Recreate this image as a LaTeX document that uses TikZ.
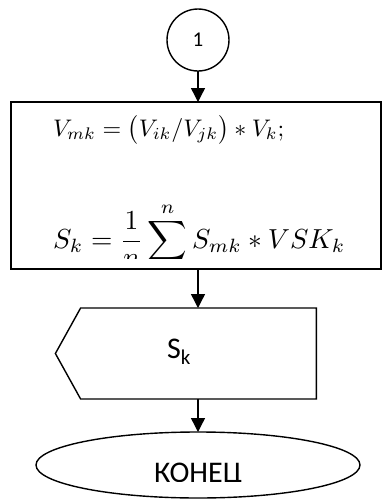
\documentclass[tikz,border=0pt]{standalone}
\usepackage{fontspec}
\setmainfont{Carlito}
\usetikzlibrary{arrows.meta,shapes.geometric,shapes.symbols}
\tikzset{
  flow diagram/.style={
    draw=black, line width=1.4pt,
    >={Triangle[length=14pt,width=14pt]},
    every node/.style={text=black, inner sep=0pt, outer sep=0pt}
  },
  flow conn/.style={circle, draw, minimum size=62pt,
    font=\fontsize{21}{24}\selectfont},
  flow calc/.style={rectangle, draw, minimum width=370pt, minimum height=167pt},
  flow out/.style={signal, signal to=west, signal from=nowhere,
    signal pointer angle=122, draw, minimum width=261pt, minimum height=91pt},
  flow end/.style={ellipse, draw, minimum width=324pt, minimum height=66pt},
  flow text/.style={font=\fontsize{30}{34}\selectfont},
  flow math/.style={anchor=base west, scale=#1, transform shape},
  flow math/.default=2.4
}

\begin{document}
\begin{tikzpicture}[flow diagram,x=1pt,y=-1pt]
    \useasboundingbox (0,0) rectangle (382,499);
    \node[flow conn] (conn) at (198,40) {1};
    \node[flow calc] (calc) at (196,185.5) {};
    \begin{scope}
      \clip (0,102) rectangle (382,258);
      \node[flow math] (vmk) at (53,136)
        {$V_{mk}=\bigl(V_{ik}/V_{jk}\bigr)\ast V_k;$};
      \node[flow math=2.75] (sk) at (53,248)
        {$\displaystyle S_k=\frac{1}{n}\sum_{i=1}^{n}S_{mk}\ast VSK_k$};
    \end{scope}
    \node[flow out] (show) at (198.5,353.5) {};
    \node[flow text] (showText) at (179,352) {S\textsubscript{k}};
    \node[flow end] (fin) at (198,465) {};
    \begin{scope}
      \clip (0,0) rectangle (382,481);
      \node[flow text, anchor=base] (finText) at (198,482) {КОНЕЦ};
    \end{scope}
    \draw[->] (conn) -- (conn.south |- calc.north);
    \draw[->] (conn.south |- calc.south) -- (conn.south |- show.north);
    \draw[->] (conn.south |- show.south) -- (fin);
\end{tikzpicture}
\end{document}
